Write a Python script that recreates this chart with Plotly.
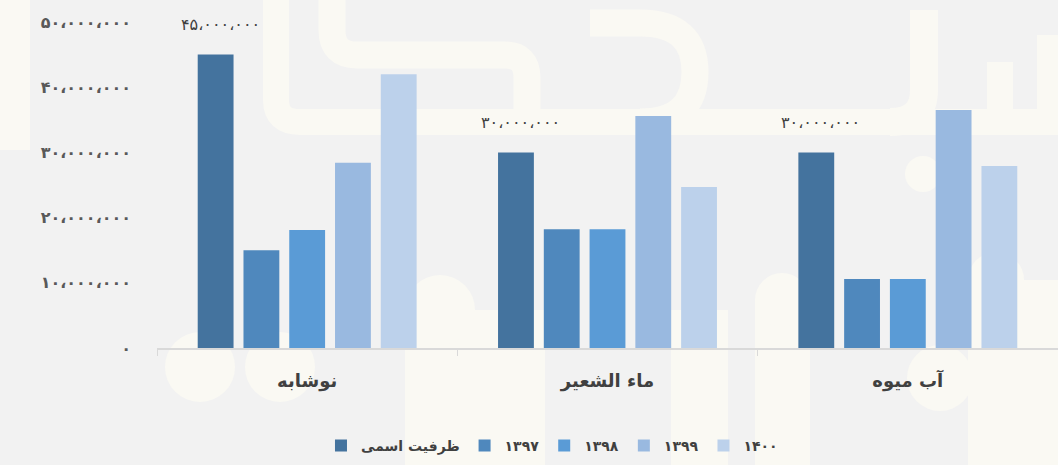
import plotly.graph_objects as go

categories = ["نوشابه", "ماء الشعير", "آب میوه"]
series_names = ["ظرفیت اسمی", "۱۳۹۷", "۱۳۹۸", "۱۳۹۹", "۱۴۰۰"]
capacity = [45000000, 30000000, 30000000]
y1397 = [15000000, 18200000, 10600000]
y1398 = [18100000, 18200000, 10600000]
y1399 = [28400000, 35600000, 36500000]
y1400 = [42000000, 24700000, 27900000]
colors = ["#44739e", "#4f88bd", "#5a9bd6", "#99b9e0", "#bcd1eb"]
tick_vals = [0, 10000000, 20000000, 30000000, 40000000, 50000000]

FA = str.maketrans("0123456789", "۰۱۲۳۴۵۶۷۸۹")


def fa_num(v):
    return f"{v:,}".replace(",", "،").translate(FA)


# ---- layout geometry (pixels) ----
W, H = 1058, 465
ML, MR, MT, MB = 157, 0, 22, 117
PW, PH = W - ML - MR, H - MT - MB
CREAM = "#faf9f3"


def px(x, y):
    return (x - ML) / PW, (H - MB - y) / PH


def P(x, y):
    a, b = px(x, y)
    return f"{a:.5f},{b:.5f}"


shapes = []


def stroke(points, width=27):
    d = ""
    for c in points:
        if c[0] in "ML":
            d += f"{c[0]}{P(c[1], c[2])} "
        else:
            d += f"Q{P(c[1], c[2])} {P(c[3], c[4])} "
    shapes.append(dict(type="path", path=d.strip(), xref="paper", yref="paper",
                       line=dict(color=CREAM, width=width), fillcolor="rgba(0,0,0,0)",
                       layer="below"))


def rect(x0, y0, x1, y1):
    a0, b0 = px(x0, y1)
    a1, b1 = px(x1, y0)
    shapes.append(dict(type="rect", x0=a0, x1=a1, y0=b0, y1=b1, xref="paper", yref="paper",
                       fillcolor=CREAM, line=dict(width=0), layer="below"))


def circle(cx, cy, r):
    a0, b0 = px(cx - r, cy + r)
    a1, b1 = px(cx + r, cy - r)
    shapes.append(dict(type="circle", x0=a0, x1=a1, y0=b0, y1=b1, xref="paper", yref="paper",
                       fillcolor=CREAM, line=dict(width=0), layer="below"))


# decorative background watermark (approximate)
stroke([("M", 15, 0), ("L", 15, 150)], 30)
stroke([("M", 276, 0), ("L", 276, 100), ("Q", 276, 122, 300, 122), ("L", 1058, 122)], 26)
stroke([("M", 332, 0), ("L", 332, 30), ("Q", 332, 55, 357, 55), ("L", 505, 55),
        ("Q", 527, 55, 527, 78), ("L", 527, 115)], 27)
stroke([("M", 590, 23), ("L", 640, 23), ("Q", 695, 23, 695, 72), ("Q", 695, 122, 640, 122)], 27)
stroke([("M", 924, 10), ("L", 924, 90), ("Q", 924, 122, 890, 122)], 28)
stroke([("M", 1000, 62), ("L", 1000, 122)], 26)
stroke([("M", 1050, 35), ("L", 1050, 122)], 26)
circle(923, 174, 18)
circle(200, 367, 35)
circle(280, 367, 35)
circle(940, 378, 33)
circle(1020, 378, 33)
rect(405, 310, 545, 465)
circle(440, 310, 35)
rect(671, 310, 728, 465)
rect(755, 300, 810, 465)
circle(782, 300, 27)
rect(968, 280, 1058, 465)
circle(996, 280, 28)

fig = go.Figure()
for name, vals, col in zip(series_names, [capacity, y1397, y1398, y1399, y1400], colors):
    fig.add_trace(go.Bar(
        x=categories, y=vals, name=name, marker=dict(color=col, line=dict(width=0)),
    ))

for cat, v in zip(categories, capacity):
    fig.add_annotation(
        x=cat, y=v, text=fa_num(v), showarrow=False, xref="x", yref="y",
        xshift=-87, yshift=30, yanchor="middle",
        font=dict(family="DejaVu Sans", size=16, color="#404040"),
    )

fig.update_layout(
    width=W, height=H,
    paper_bgcolor="#f2f2f2", plot_bgcolor="rgba(0,0,0,0)",
    margin=dict(l=ML, r=MR, t=MT, b=MB),
    barmode="group", bargap=0.238, bargroupgap=0.217,
    font=dict(family="DejaVu Sans", color="#595959"),
    shapes=shapes,
    showlegend=True,
    legend=dict(
        orientation="h", x=0.182, xanchor="left", y=-0.30, yanchor="middle",
        font=dict(size=14, color="#404040", weight="bold"), bgcolor="rgba(0,0,0,0)",
        itemwidth=30,
    ),
    xaxis=dict(
        showgrid=False, showline=True, linecolor="#d9d9d9", linewidth=1.5,
        ticks="outside", ticklen=6, tickcolor="#d9d9d9", tickson="boundaries",
        tickfont=dict(size=18, color="#404040", family="DejaVu Sans", weight="bold"),
        ticklabelstandoff=16,
    ),
    yaxis=dict(
        range=[0, 50000000], showgrid=False, zeroline=False, showline=False,
        tickvals=tick_vals, ticktext=[fa_num(v) for v in tick_vals],
        tickfont=dict(size=16, color="#595959", family="DejaVu Sans", weight="bold"),
        ticklabelstandoff=25,
    ),
)

fig.write_html("out.html", post_script="document.body.style.margin='0';",
               config={"displayModeBar": False})
